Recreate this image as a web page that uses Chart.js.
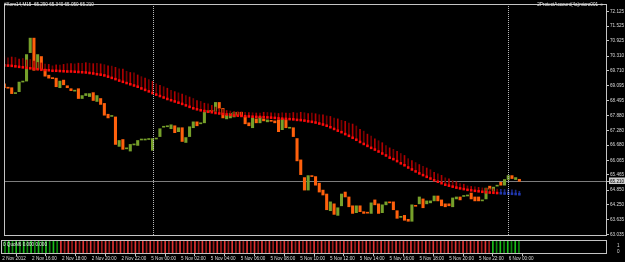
<!DOCTYPE html>
<html><head><meta charset="utf-8">
<script src="https://cdn.jsdelivr.net/npm/chart.js@4.4.1/dist/chart.umd.min.js"></script>
<style>
html,body{margin:0;padding:0;background:#000;}
#wrap{position:relative;width:625px;height:262px;background:#000;overflow:hidden;}
#main{position:absolute;left:0;top:0;}
#sub{position:absolute;left:0;top:239px;}
.lbl{position:absolute;font-family:"Liberation Sans",Arial,sans-serif;font-size:4.6px;color:#ececec;white-space:pre;line-height:1;}
</style></head><body>
<div id="wrap">
<canvas id="main" width="625" height="240"></canvas>
<canvas id="sub" width="625" height="23"></canvas>
<div class="lbl" id="title" style="left:4px;top:2.5px;"></div>
<div class="lbl" id="acct" style="right:21px;top:2.5px;text-align:right;"></div>
<div class="lbl" id="subTitle" style="left:3px;top:242.5px;"></div>
</div>
<script>
// ---------- data ----------
const symbolTitle = "#Xom14,M15  65.290 65.340 65.050 65.210";
const accountLabel = "2ProtectAccount(4a)micro001 \u263A";
const subWindowLabel = "0 QuoN6 0.000 0.000";

const openP = [69.18,69.02,69.02,68.78,68.86,69.25,69.29,70.45,71.04,69.77,
 70.29,69.77,69.53,69.41,69.41,69.02,69.33,69.10,68.98,68.88,
 68.98,68.58,68.70,68.66,68.82,68.46,68.58,68.38,67.94,67.85,
 67.83,66.63,66.91,66.53,66.44,66.69,66.67,66.89,66.89,66.91,
 66.47,66.93,67.03,67.41,67.43,67.35,67.47,67.23,67.39,66.79,
 67.03,67.39,67.63,67.55,67.59,68.02,68.10,68.06,68.42,68.18,
 67.75,67.79,67.83,68.02,68.02,67.83,67.59,67.39,67.75,67.59,
 67.75,67.63,67.67,67.67,67.71,67.31,67.71,67.37,67.39,66.95,
 66.08,65.36,64.85,65.44,65.40,65.13,64.85,64.69,64.01,64.29,
 63.82,64.21,64.77,64.57,64.21,63.93,64.21,63.97,63.93,63.90,
 64.45,64.29,63.93,64.25,64.37,64.37,64.01,63.74,63.82,63.66,
 63.58,64.21,64.29,64.49,64.29,64.33,64.41,64.61,64.45,64.29,
 64.29,64.17,64.49,64.57,64.59,64.61,64.73,64.57,64.57,64.41,
 64.49,65.01,64.81,65.01,65.17,65.05,65.28,65.44,65.28,65.29];

const closeP = [69.02,69.00,68.78,68.82,69.25,69.29,70.37,71.04,69.73,70.37,
 69.77,69.49,69.41,69.39,69.06,69.29,69.14,69.02,68.90,68.90,
 68.58,68.70,68.78,68.78,68.50,68.70,68.34,67.90,67.79,67.86,
 66.71,66.87,66.51,66.55,66.71,66.71,66.87,66.91,66.91,66.93,
 66.95,66.95,67.35,67.43,67.47,67.51,67.19,67.39,66.83,66.99,
 67.43,67.63,67.47,67.57,68.02,68.10,68.06,68.42,68.18,67.79,
 67.90,67.98,68.02,67.90,67.86,67.55,67.47,67.79,67.59,67.83,
 67.67,67.71,67.65,67.59,67.23,67.75,67.39,67.39,67.03,66.04,
 65.48,64.85,65.44,65.40,65.05,64.77,64.65,64.05,64.37,63.86,
 64.13,64.69,64.57,64.17,63.90,64.21,63.97,63.90,63.91,64.33,
 64.25,63.90,64.25,64.37,64.33,64.05,63.70,63.78,63.62,63.58,
 64.25,64.19,64.57,64.13,64.41,64.41,64.61,64.41,64.21,64.17,
 64.21,64.53,64.57,64.45,64.61,64.65,64.49,64.41,64.41,64.43,
 64.93,64.89,64.97,65.05,65.05,65.28,65.44,65.32,65.36,65.21];

const maLine = [69.93,69.92,69.91,69.89,69.87,69.85,69.83,69.81,69.79,69.77,
 69.75,69.74,69.73,69.71,69.71,69.70,69.69,69.68,69.68,69.67,
 69.66,69.65,69.64,69.62,69.60,69.57,69.55,69.52,69.47,69.42,
 69.37,69.31,69.26,69.21,69.16,69.11,69.06,68.99,68.93,68.87,
 68.80,68.74,68.68,68.62,68.56,68.51,68.46,68.41,68.36,68.30,
 68.24,68.18,68.14,68.10,68.07,68.04,68.02,67.99,67.97,67.95,
 67.93,67.91,67.89,67.88,67.87,67.86,67.85,67.84,67.83,67.83,
 67.82,67.81,67.80,67.79,67.77,67.76,67.75,67.74,67.73,67.71,
 67.70,67.68,67.65,67.63,67.60,67.56,67.52,67.47,67.41,67.34,
 67.27,67.21,67.13,67.06,66.98,66.90,66.81,66.73,66.65,66.57,
 66.50,66.42,66.34,66.26,66.17,66.11,66.03,65.94,65.86,65.77,
 65.69,65.61,65.53,65.46,65.39,65.32,65.25,65.19,65.13,65.07,
 65.03,64.99,64.95,64.92,64.89,64.86,64.84,64.82,64.80,64.78,
 64.76,64.75,64.74,64.73,64.72,64.71,64.71,64.70,64.69,64.68];

const maGap = [0.36,0.32,0.36,0.36,0.32,0.36,0.32,0.36,0.32,0.28,
 0.28,0.24,0.24,0.20,0.24,0.24,0.28,0.32,0.32,0.32,
 0.36,0.36,0.40,0.40,0.40,0.44,0.44,0.44,0.44,0.48,
 0.48,0.48,0.52,0.48,0.48,0.52,0.48,0.48,0.48,0.48,
 0.48,0.44,0.44,0.44,0.44,0.40,0.40,0.40,0.40,0.40,
 0.40,0.40,0.36,0.36,0.32,0.32,0.28,0.24,0.20,0.20,
 0.16,0.16,0.16,0.16,0.16,0.16,0.16,0.16,0.16,0.16,
 0.20,0.20,0.20,0.20,0.20,0.24,0.24,0.24,0.28,0.28,
 0.32,0.32,0.32,0.36,0.36,0.36,0.40,0.40,0.44,0.44,
 0.48,0.48,0.52,0.52,0.56,0.56,0.52,0.52,0.48,0.48,
 0.44,0.44,0.44,0.40,0.40,0.40,0.40,0.40,0.40,0.36,
 0.36,0.36,0.36,0.36,0.36,0.36,0.32,0.32,0.32,0.28,
 0.28,0.24,0.24,0.20,0.20,0.16,0.16,0.16,0.16,0.16,
 0.16,0.16,0.16,0.16,0.16,0.16,0.16,0.16,0.16,0.12];

const quoUp = [1,1,1,1,1,1,1,1,1,1, 1,1,1,1,1,1,0,0,0,0,
 0,0,0,0,0,0,0,0,0,0, 0,0,0,0,0,0,0,0,0,0,
 0,0,0,0,0,0,0,0,0,0, 0,0,0,0,0,0,0,0,0,0,
 0,0,0,0,0,0,0,0,0,0, 0,0,0,0,0,0,0,0,0,0,
 0,0,0,0,0,0,0,0,0,0, 0,0,0,0,0,0,0,0,0,0,
 0,0,0,0,0,0,0,0,0,0, 0,0,0,0,0,0,0,0,0,0,
 0,0,0,0,0,0,0,0,0,0, 0,0,1,1,1,1,1,1,1,1];

const priceTicks = [63.035,63.635,64.250,64.850,65.465,66.065,66.680,67.280,67.880,68.495,69.095,69.710,70.310,70.925,71.525,72.125];
const timeLabels = ["2 Nov 2012","2 Nov 16:00","2 Nov 18:00","2 Nov 20:00","2 Nov 22:00","5 Nov 00:00","5 Nov 02:00","5 Nov 04:00","5 Nov 06:00","5 Nov 08:00","5 Nov 10:00","5 Nov 12:00","5 Nov 14:00","5 Nov 16:00","5 Nov 18:00","5 Nov 20:00","5 Nov 22:00","6 Nov 00:00"];
const barsPerLabel = 8;
const periodSeparators = [40, 136];
const maRisingFrom = 134;

// ---------- chart ----------
document.getElementById('title').textContent = symbolTitle;
document.getElementById('acct').textContent = accountLabel;
document.getElementById('subTitle').textContent = subWindowLabel;

const FONT = {family: '"Liberation Sans", Arial, sans-serif', size: 4.6};
const TXT = '#dcdcdc';
const FRAME = '#c4c4c4';
const lastClose = closeP[closeP.length - 1];
const X_MIN = -0.08, X_MAX = 162.65;

function noPad(s) { s.paddingTop = 0; s.paddingBottom = 0; s.paddingLeft = 0; s.paddingRight = 0; }

const framePlugin = {
  id: 'frame',
  afterDraw(chart) {
    const a = chart.chartArea, c = chart.ctx;
    c.save(); c.strokeStyle = FRAME; c.lineWidth = 1;
    c.strokeRect(a.left + 0.5, a.top + 0.5, a.right - a.left - 1, a.bottom - a.top - 1);
    c.restore();
  }
};
const sepPlugin = {
  id: 'seps',
  afterDatasetsDraw(chart) {
    const xs = chart.scales.x, a = chart.chartArea, c = chart.ctx;
    c.save(); c.strokeStyle = '#b8b8b8'; c.lineWidth = 1; c.setLineDash([1, 1]);
    periodSeparators.forEach(v => {
      const px = Math.round(xs.getPixelForValue(v)) + 0.5;
      c.beginPath(); c.moveTo(px, a.top); c.lineTo(px, a.bottom); c.stroke();
    });
    c.restore();
  }
};

new Chart(document.getElementById('main'), {
  type: 'bar',
  data: {
    datasets: [
      {
        type: 'line',
        data: maLine.map((m, i) => ({x: i, y: m})),
        showLine: false,
        pointStyle: 'rect',
        pointRadius: 1.8,
        pointBorderWidth: 0,
        pointBackgroundColor: ctx => ctx.dataIndex >= maRisingFrom ? '#2038b0' : '#ff0a0a',
        order: 1
      },
      {
        type: 'bar',
        data: maLine.map((m, i) => ({x: i, y: [m, m + maGap[i]]})),
        backgroundColor: ctx => ctx.dataIndex >= maRisingFrom ? '#1c2a86' : (ctx.dataIndex % 2 ? '#760000' : '#b00000'),
        barThickness: 1,
        grouped: false,
        order: 2
      },
      {
        type: 'bar',
        data: openP.map((o, i) => ({x: i, y: [o, closeP[i]]})),
        backgroundColor: ctx => closeP[ctx.dataIndex] >= openP[ctx.dataIndex] ? '#76a02a' : '#ff600c',
        barThickness: 2.4,
        minBarLength: 1,
        grouped: false,
        order: 3
      }
    ]
  },
  options: {
    responsive: false,
    animation: false,
    layout: {padding: {left: 1, top: 1, right: 0, bottom: 1}},
    plugins: {legend: {display: false}, tooltip: {enabled: false}, title: {display: false}},
    scales: {
      x: {type: 'linear', min: X_MIN, max: X_MAX, offset: false, display: false},
      y: {
        position: 'right', min: 62.98, max: 72.43,
        afterBuildTicks: s => { s.ticks = priceTicks.concat([lastClose]).sort((a, b) => a - b).map(v => ({value: v})); },
        afterFit: s => { s.width = 18; noPad(s); },
        border: {display: false},
        grid: {
          drawOnChartArea: true,
          color: ctx => (ctx.tick && ctx.tick.value === lastClose) ? '#7c7c7c' : 'rgba(0,0,0,0)',
          tickColor: FRAME, tickLength: 2, lineWidth: 1
        },
        ticks: {
          autoSkip: false, font: FONT, padding: 1,
          color: ctx => (ctx.tick && ctx.tick.value === lastClose) ? '#000' : TXT,
          showLabelBackdrop: ctx => !!(ctx.tick && ctx.tick.value === lastClose),
          backdropColor: '#d0d0d0', backdropPadding: {top: 1, bottom: 0, left: 1, right: 2},
          callback: v => Number(v).toFixed(3)
        }
      }
    }
  },
  plugins: [framePlugin, sepPlugin]
});

new Chart(document.getElementById('sub'), {
  type: 'bar',
  data: {
    datasets: [{
      data: quoUp.map((u, i) => ({x: i, y: 1})),
      backgroundColor: ctx => quoUp[ctx.dataIndex] ? (ctx.dataIndex % 2 ? '#0b8a0b' : '#19c019') : (ctx.dataIndex % 2 ? '#a01a1a' : '#e33232'),
      barThickness: 1,
      grouped: false
    }]
  },
  options: {
    responsive: false,
    animation: false,
    layout: {padding: {left: 1, top: 1, right: 0, bottom: 0}},
    plugins: {legend: {display: false}, tooltip: {enabled: false}},
    scales: {
      x: {
        type: 'linear', min: X_MIN, max: X_MAX, offset: false, position: 'bottom',
        afterBuildTicks: s => { s.ticks = timeLabels.map((t, k) => ({value: k * barsPerLabel})); },
        afterFit: s => { s.height = 8; noPad(s); },
        border: {display: false},
        grid: {drawOnChartArea: false, tickLength: 2, tickColor: FRAME},
        ticks: {
          autoSkip: false, maxRotation: 0, align: 'start', labelOffset: 1, padding: 0,
          font: FONT, color: TXT,
          callback: (v, idx) => timeLabels[idx]
        }
      },
      y: {
        position: 'right', min: 0, max: 1,
        afterBuildTicks: s => { s.ticks = [{value: 0}, {value: 1}]; },
        afterFit: s => { s.width = 18; noPad(s); },
        border: {display: false},
        grid: {display: false},
        ticks: {
          autoSkip: false, font: FONT, color: TXT, padding: 2,
          callback: v => v === 1 ? ['', '', '1'] : ['0', '']
        }
      }
    }
  },
  plugins: [framePlugin]
});
</script>
</body></html>
